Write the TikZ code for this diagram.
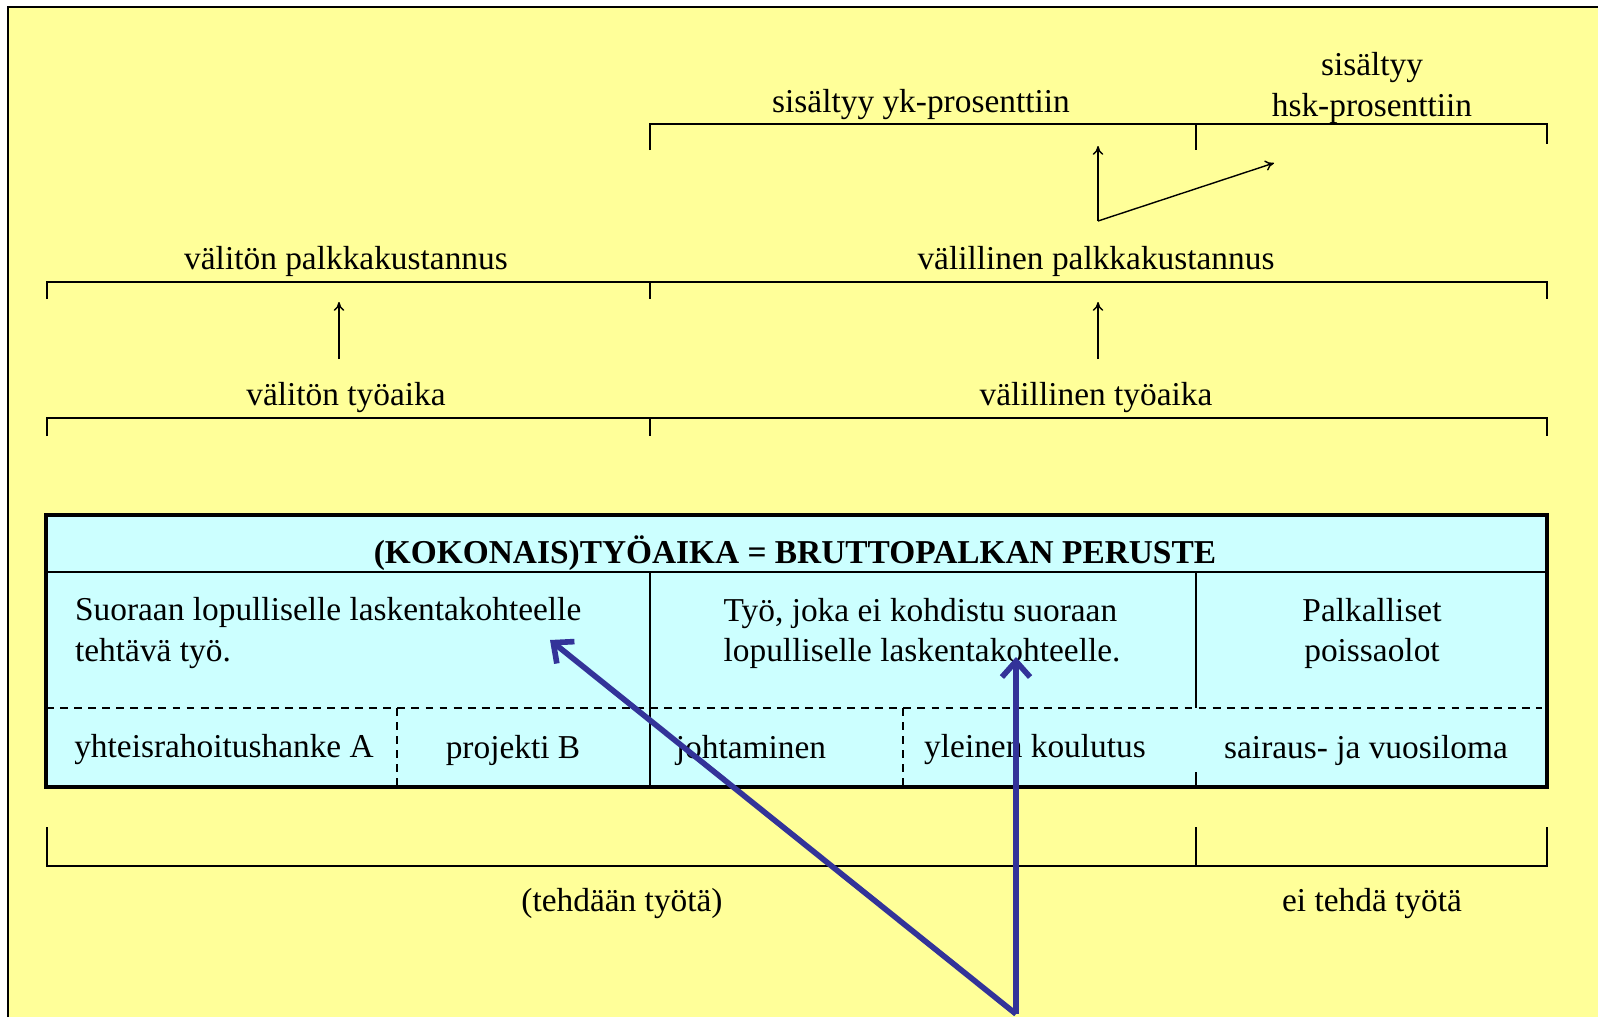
\documentclass[tikz,border=0pt]{standalone}
\usepackage{fontspec}
\setmainfont{Liberation Serif}
\usepackage{tikz}
\usetikzlibrary{arrows.meta}

\definecolor{paleyellow}{HTML}{FFFF99}
\definecolor{palecyan}{HTML}{CCFFFF}
\definecolor{pointblue}{HTML}{333399}

\begin{document}
\begin{tikzpicture}[x=0.02cm, y=-0.02cm,
    lbl/.style={inner sep=1pt, font=\fontsize{19}{22.8}\selectfont},
    brace/.style={line width=1.1pt},
    rise/.style={-{To[length=5pt,width=6pt]}, line width=0.8pt},
    cell/.style={line width=0.8pt},
    celldash/.style={line width=0.8pt, dash pattern=on 4.5pt off 3.5pt},
    pointer/.style={pointblue, line width=3.2pt, -{Straight Barb[length=9pt,width=16pt]}}]
            \useasboundingbox (0,0) rectangle (1598,1017);
            \fill[white] (0,0) rectangle (1598,1017);
            \fill[paleyellow] (8,7) rectangle (1598,1017);
            \draw[line width=1.2pt] (8,1017) -- (8,7) -- (1598,7);

            % Labels above
            \node[lbl] (yk) at (921,105) {sisältyy yk-prosenttiin};
            \node[lbl, align=center] (hsk) at (1372,88) {sisältyy\\hsk-prosenttiin};
            \node[lbl] (vpk) at (346,261) {välitön palkkakustannus};
            \node[lbl] (lpk) at (1096,261) {välillinen palkkakustannus};
            \node[lbl] (vta) at (346,398) {välitön työaika};
            \node[lbl] (lta) at (1096,398) {välillinen työaika};

            % Brackets
            \draw[brace] (650,150) -- (650,124) -- (1547,124) -- (1547,144);
            \draw[brace] (1196,124) -- (1196,150);
            \draw[brace] (47,299) -- (47,282) -- (1547,282) -- (1547,299);
            \draw[brace] (650,282) -- (650,299);
            \draw[brace] (47,436) -- (47,418) -- (1547,418) -- (1547,436);
            \draw[brace] (650,418) -- (650,436);

            % Arrows
            \coordinate (fork) at (1098,221);
            \coordinate (ykend) at (1098,146);
            \coordinate (hskend) at (1274,163);
            \draw[rise] (fork) -- (ykend);
            \draw[rise] (fork) -- (hskend);
            \coordinate (vs) at (339,359);
            \coordinate (ve) at (339,302);
            \coordinate (ls) at (1098,359);
            \coordinate (le) at (1098,302);
            \draw[rise] (vs) -- (ve);
            \draw[rise] (ls) -- (le);

            % Table
            \fill[palecyan] (46,515) rectangle (1547,787);
            \draw[cell] (46,572) -- (1547,572);
            \draw[cell] (650,572) -- (650,787);
            \draw[cell] (1196,572) -- (1196,708);
            \draw[cell] (1196,772) -- (1196,787);
            \draw[celldash] (46,708) -- (1542,708);
            \draw[celldash] (397,708) -- (397,787);
            \draw[celldash] (903,708) -- (903,787);
            \draw[line width=2.4pt] (46,515) rectangle (1547,787);

            \node[lbl, font=\fontsize{19}{22.8}\selectfont\bfseries] (head) at (795,553) {(KOKONAIS)TYÖAIKA = BRUTTOPALKAN PERUSTE};
            \node[lbl, align=left, anchor=west] (suora) at (73,633) {Suoraan lopulliselle laskentakohteelle\\tehtävä työ.};
            \node[lbl, align=left] (epas) at (922,633) {Työ, joka ei kohdistu suoraan\\lopulliselle laskentakohteelle.};
            \node[lbl, align=center] (poissa) at (1372,633) {Palkalliset\\poissaolot};
            \node[lbl] (hanke) at (224,750) {yhteisrahoitushanke A};
            \node[lbl] (proj) at (513,750) {projekti B};
            \node[lbl] (johto) at (751,750) {johtaminen};
            \node[lbl] (koul) at (1035,750) {yleinen koulutus};
            \node[lbl] (loma) at (1366,750) {sairaus- ja vuosiloma};

            % Bracket below
            \draw[brace] (47,827) -- (47,866) -- (1547,866) -- (1547,827);
            \draw[brace] (1196,827) -- (1196,866);
            \node[lbl] (tehd) at (622,904) {(tehdään työtä)};
            \node[lbl] (eit) at (1372,904) {ei tehdä työtä};

            % Pointers
            \coordinate (base) at (1016,1014);
            \coordinate (p1) at (550,640);
            \coordinate (p2) at (1016,657);
            \draw[pointer] (base) -- (p1);
            \draw[pointer] (base) -- (p2);
        \end{tikzpicture}
\end{document}
